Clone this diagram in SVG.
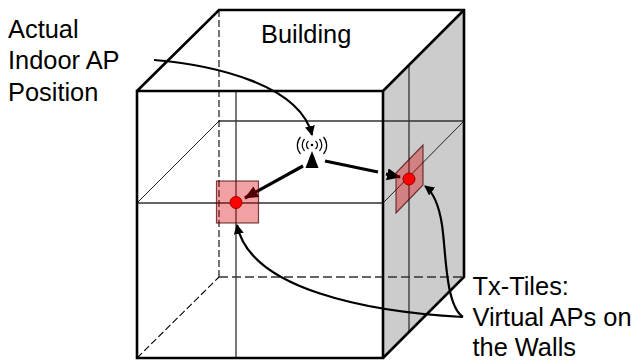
<svg xmlns="http://www.w3.org/2000/svg" width="636" height="360" viewBox="0 0 636 360">
<style>
.t{font-family:"Liberation Sans",Arial,sans-serif;font-size:25.400px;fill:#000}
.thick{stroke:#000;stroke-width:2.6;fill:none}
.thin{stroke:#222;stroke-width:1;fill:none}
.mid{stroke:#333;stroke-width:1.3;fill:none}
.dash{stroke:#000;stroke-width:1.1;fill:none;stroke-dasharray:7 3}
.dash2{stroke:#333;stroke-width:1.3;fill:none;stroke-dasharray:9 4}
.conn{stroke:#000;stroke-width:2.2;fill:none}
.bold{stroke:#000;stroke-width:3.2;fill:none}
.tile{fill:#d80000;fill-opacity:.37;stroke:#400;stroke-opacity:.7;stroke-width:1.200}
.dot{fill:#f00;stroke:#900;stroke-width:1}
.wave{stroke:#000;stroke-width:1.200;fill:none}
</style>
<defs>
<marker id="a" markerUnits="userSpaceOnUse" markerWidth="12" markerHeight="12" refX="9" refY="5" orient="auto"><path d="M0 0L10 5L0 10z" fill="#000"/></marker>
<marker id="b" markerUnits="userSpaceOnUse" markerWidth="16" markerHeight="14" refX="13" refY="6" orient="auto"><path d="M0 0L14 6L0 12z" fill="#000"/></marker>
</defs>
<g id="building">
<path d="M383 91L464 10V277L383 358z" fill="#ccc"/>
<path class="mid" d="M409 65V332M219 121H464M137 203H383M236 91V358"/>
<path class="thin" d="M137 203L219 121M383 203L464 121"/>
<path class="dash" d="M219 10V277M137 358L219 277"/>
<path class="dash2" d="M219 277H464"/>
<path class="thick" d="M137 91H383V358H137zM137 91L219 10H464V277L383 358M383 91L464 10"/>
</g>
<g id="connectors">
<path class="conn" marker-end="url(#a)" d="M154 60C215 65 300 85 312 135"/>
<path class="bold" marker-end="url(#b)" d="M303 166L245 198"/>
<path class="bold" d="M325 161L378 172"/>
<path class="bold" marker-end="url(#b)" d="M386 174L400 177"/>
<path class="conn" marker-end="url(#a)" d="M463 317C370 312 250 290 237 225"/>
<path class="conn" marker-end="url(#a)" d="M463 317C445 305 446 250 442 225C439 205 434 193 425 186"/>
</g>
<g id="tile-front">
<rect class="tile" x="216.500" y="181" width="42" height="42"/>
<circle class="dot" cx="236" cy="202.500" r="6"/>
</g>
<g id="tile-side">
<path class="tile" d="M396 173L423 145V185L396 213z"/>
<circle class="dot" cx="409" cy="179" r="6"/>
</g>
<g id="ap">
<path d="M312 151L318.500 168H305.500z" fill="#000"/>
<circle cx="312" cy="145" r="1.300" fill="#000"/>
<path class="wave" d="M308.500 141A5 5 0 0 0 308.500 149M315.500 141A5 5 0 0 1 315.500 149M304.500 139A9 9 0 0 0 304.500 151M319.500 139A9 9 0 0 1 319.500 151M300.500 137A13 13 0 0 0 300.500 154M323.500 137A13 13 0 0 1 323.500 154"/>
</g>
<g id="labels">
<text class="t" x="261" y="43">Building</text>
<text class="t" x="8" y="37.500">Actual</text>
<text class="t" x="8" y="69">Indoor AP</text>
<text class="t" x="8" y="100.500">Position</text>
<text class="t" x="472.500" y="295">Tx-Tiles:</text>
<text class="t" x="472.500" y="325.500">Virtual APs on</text>
<text class="t" x="472.500" y="356">the Walls</text>
</g>
</svg>
